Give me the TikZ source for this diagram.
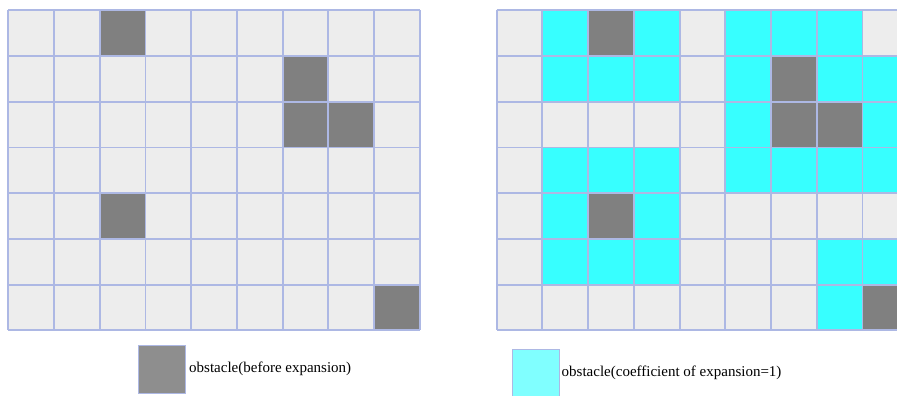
\documentclass[tikz,border=0pt]{standalone}
\usepackage{fontspec}
\setmainfont{Liberation Serif}
\definecolor{cellgrey}{HTML}{EDEDED}
\definecolor{obst}{HTML}{808080}
\definecolor{expd}{HTML}{37FFFF}
\definecolor{gridline}{HTML}{ADB8E4}
\definecolor{legobst}{HTML}{8E8E8E}
\definecolor{legexp}{HTML}{80FFFF}
\begin{document}
\begin{tikzpicture}[x=1pt,y=-1pt,
  gline/.style={draw=gridline,line width=1.9pt},
  legtext/.style={anchor=west,inner sep=0pt,font=\fontsize{15}{18}\selectfont},
  swatch/.style={draw=gridline,line width=0.9pt}]
\useasboundingbox (0,0) rectangle (897,396);
\def\cw{45.72}
% ---------- left grid ----------
\fill[cellgrey] (8.3,10.3) rectangle ++(411.5,320);
\foreach \r/\c in {0/2,1/6,2/6,2/7,4/2,6/8}
  \fill[obst] ({8.3+\c*\cw},{10.3+\r*\cw}) rectangle ++(\cw,\cw);
\foreach \i in {0,...,9}
  \draw[gline] ({8.3+\i*\cw},10.3) -- ++(0,320.04);
\foreach \i in {0,...,7}
  \draw[gline] (8.3,{10.3+\i*\cw}) -- ++(411.48,0);
% ---------- right grid ----------
\begin{scope}
\clip (480,0) rectangle (897,340);
\fill[cellgrey] (496.7,10.3) rectangle ++(411.5,320);
\foreach \r/\c in {0/1,0/3,0/5,0/6,0/7,
                   1/1,1/2,1/3,1/5,1/7,1/8,
                   2/5,2/8,
                   3/1,3/2,3/3,3/5,3/6,3/7,3/8,
                   4/1,4/3,
                   5/1,5/2,5/3,5/7,5/8,
                   6/7}
  \fill[expd] ({496.7+\c*\cw},{10.3+\r*\cw}) rectangle ++(\cw,\cw);
\foreach \r/\c in {0/2,1/6,2/6,2/7,4/2,6/8}
  \fill[obst] ({496.7+\c*\cw},{10.3+\r*\cw}) rectangle ++(\cw,\cw);
\foreach \i in {0,...,9}
  \draw[gline] ({496.7+\i*\cw},10.3) -- ++(0,320.04);
\foreach \i in {0,...,7}
  \draw[gline] (496.7,{10.3+\i*\cw}) -- ++(411.48,0);
\end{scope}
% ---------- legend ----------
\filldraw[swatch,fill=legobst] (138.5,345.5) rectangle (185.5,393);
\node[legtext] (legA) at (189,369) {obstacle(before expansion)};
\begin{scope}
\clip (480,340) rectangle (897,396);
\filldraw[swatch,fill=legexp] (512,349.5) rectangle (559,400);
\end{scope}
\node[legtext] (legB) at (561.5,373) {obstacle(coefficient of expansion=1)};
\end{tikzpicture}
\end{document}
